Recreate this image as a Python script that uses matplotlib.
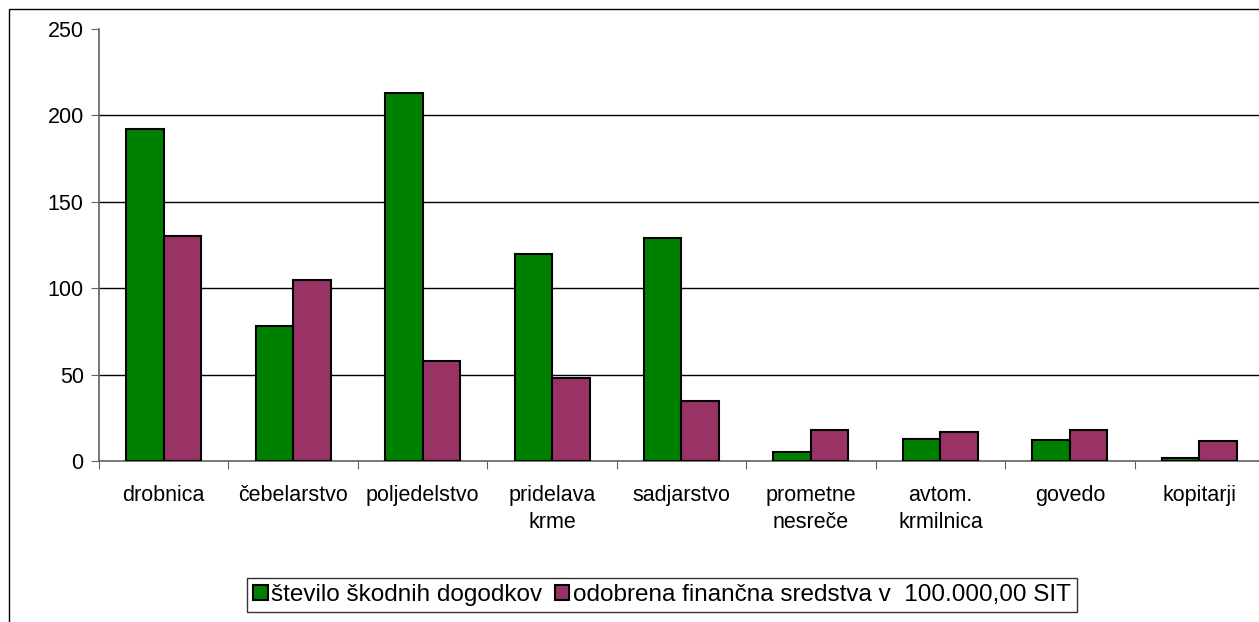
import numpy as np
import matplotlib.pyplot as plt
from matplotlib.patches import Rectangle

plt.rcParams['font.family'] = ['Liberation Sans', 'DejaVu Sans']

categories = ['drobnica', 'čebelarstvo', 'poljedelstvo', 'pridelava\nkrme', 'sadjarstvo',
              'prometne\nnesreče', 'avtom.\nkrmilnica', 'govedo', 'kopitarji']
events = [192, 78, 213, 120, 129, 5, 13, 12, 2]
funds = [130, 105, 58, 48, 35, 18, 17, 18, 11.5]
series_names = ['število škodnih dogodkov', 'odobrena finančna sredstva v  100.000,00 SIT']
colors = ['#008000', '#993366']

W, H = 1259, 622
fig = plt.figure(figsize=(W / 100, H / 100), dpi=100)

# outer chart border (clipped on right/bottom like the original)
fig.patches.append(Rectangle((9 / W, -0.1), 1.2, 1 - 9 / H + 0.1, transform=fig.transFigure,
                             fill=False, edgecolor='black', linewidth=1.0))

left, right = 99, 1264
top, bottom = 29, 461
ax = fig.add_axes([left / W, 1 - bottom / H, (right - left) / W, (bottom - top) / H])

x = np.arange(len(categories))
bw = 0.29
ax.bar(x - bw / 2, events, bw, color=colors[0], edgecolor='black', linewidth=1.5,
       label=series_names[0], zorder=3)
ax.bar(x + bw / 2, funds, bw, color=colors[1], edgecolor='black', linewidth=1.5,
       label=series_names[1], zorder=3)

ax.set_xlim(-0.5, len(categories) - 0.5)
ax.set_ylim(0, 250)
ax.set_yticks([0, 50, 100, 150, 200, 250])
for v in [50, 100, 150, 200]:
    ax.axhline(v, color='black', linewidth=1.0, zorder=1)

ax.set_xticks(np.arange(len(categories) + 1) - 0.5)
ax.set_xticklabels([])
ax.set_xticks(x, minor=True)
ax.set_xticklabels(categories, minor=True, fontsize=15.5, linespacing=1.4)
ax.tick_params(axis='x', which='minor', length=0, pad=17)
ax.tick_params(axis='x', which='major', length=6, color='#606060', direction='out')
ax.tick_params(axis='y', length=6, color='#606060', direction='out', labelsize=15.5, pad=5)

for s in ['top', 'right']:
    ax.spines[s].set_visible(False)
for s in ['left', 'bottom']:
    ax.spines[s].set_color('#606060')
    ax.spines[s].set_linewidth(1.2)

leg = fig.legend(loc='center', bbox_to_anchor=(662 / W, 1 - 595 / H), ncol=2, fontsize=17.5,
                 frameon=True, fancybox=False, edgecolor='black', handlelength=0.6,
                 handleheight=0.6, handletextpad=0.15, columnspacing=0.5, borderpad=0.25)
leg.get_frame().set_linewidth(1.0)

fig.savefig('out.png', dpi=100)
